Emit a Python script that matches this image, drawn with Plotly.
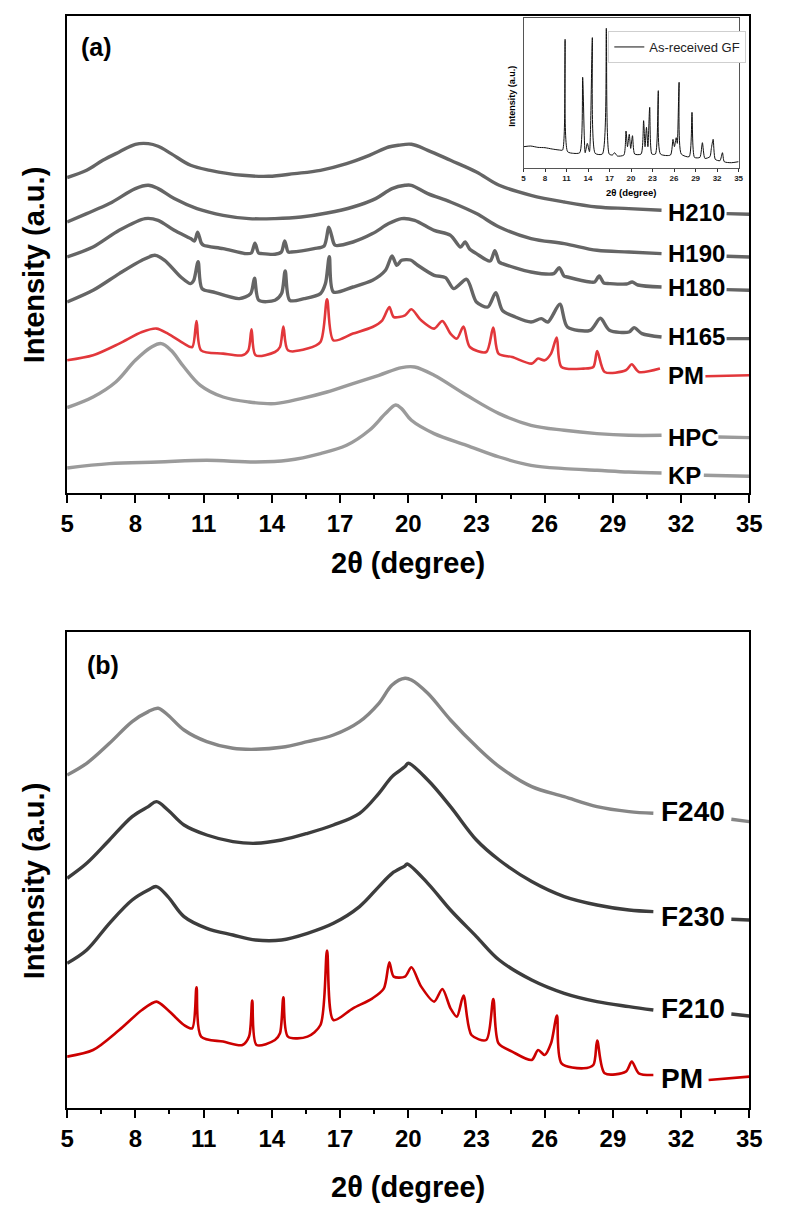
import plotly.graph_objects as go

# ---------------- Panel (a) data: 2theta (deg) and intensity (a.u., offset stack) ----------------
H210_X = [5.0, 5.86, 6.57, 7.29, 8.0, 8.57, 9.0, 9.57, 10.43, 11.29, 12.71, 13.86, 15.0, 16.14, 17.29, 18.29,
          19.14, 19.57, 20.14, 20.86, 21.86, 23.0, 24.0, 25.4, 26.86, 28.3, 29.7, 31.14, None, 34.0, 35.0]
H210_Y = [315.4, 322.7, 332.7, 341.0, 348.7, 349.4, 346.7, 339.4, 327.7, 322.7, 317.7, 316.7, 319.4, 322.7, 329.4, 337.7,
          346.0, 347.7, 348.7, 342.7, 332.7, 321.0, 307.7, 297.7, 291.0, 286.0, 284.4, 282.7, None, 279.4, 278.7]

H190_X = [5.0, 5.86, 6.86, 8.0, 8.57, 9.0, 9.71, 10.71, 11.86, 13.0, 14.14, 15.29, 16.43, 17.57, 18.57, 19.29,
          19.86, 20.14, 20.86, 21.86, 23.0, 24.0, 25.4, 26.86, 28.3, 29.7, 31.14, None, 34.0, 35.0]
H190_Y = [271.0, 279.4, 289.4, 304.4, 307.7, 304.4, 294.4, 284.4, 277.7, 274.4, 274.4, 276.0, 280.0, 286.0, 294.4, 304.4,
          307.7, 307.7, 299.4, 291.0, 279.4, 266.0, 254.4, 249.4, 242.7, 241.0, 239.4, None, 236.7, 236.0]

H180_X = [5.0, 6.14, 7.29, 8.43, 9.0, 9.71, 10.43, 10.6, 10.74, 10.9, 11.0, 11.86, 12.86, 13.1, 13.26, 13.42, 13.57,
          14.14, 14.42, 14.57, 14.72, 14.86, 15.86, 16.3, 16.51, 16.72, 16.79, 17.57, 18.43, 19.14, 19.71, 20.28,
          21.14, 21.86, 22.3, 22.5, 22.7, 23.0, 23.6, 23.81, 24.0, 24.14, 25.4, 26.4, 26.64, 26.85, 27.0, 28.0,
          28.2, 28.4, 28.6, 28.85, 29.6, 29.85, 30.1, 31.14, None, 34.0, 35.0]
H180_Y = [236.0, 246.0, 262.7, 274.4, 272.7, 262.7, 254.4, 252.0, 260.7, 250.0, 247.7, 244.4, 239.4, 240.0, 249.7, 240.0, 239.4,
          238.7, 241.0, 252.0, 241.0, 241.0, 244.4, 247.0, 265.7, 250.0, 247.7, 251.0, 259.4, 269.4, 274.4, 272.7,
          262.7, 257.7, 246.0, 251.0, 244.0, 239.4, 232.0, 242.4, 231.0, 229.4, 221.0, 219.4, 225.4, 217.0, 216.0, 211.0,
          211.0, 217.0, 210.0, 209.4, 209.0, 211.0, 208.0, 206.0, None, 203.4, 202.7]

H165_X = [5.0, 6.14, 7.29, 8.29, 8.86, 9.29, 10.0, 10.43, 10.57, 10.76, 10.93, 11.43, 12.57, 13.07, 13.24, 13.43,
          14.14, 14.43, 14.59, 14.79, 15.43, 16.14, 16.36, 16.53, 16.71, 17.57, 18.43, 19.0, 19.29, 19.5, 19.71,
          20.1, 20.4, 21.14, 21.64, 22.0, 22.57, 23.0, 23.5, 23.85, 24.14, 24.71, 25.4, 25.85, 26.14, 26.67, 27.0,
          28.0, 28.45, 28.85, 29.71, 29.93, 30.28, 31.14, None, 34.0, 35.0]
H165_Y = [191.0, 202.7, 219.4, 232.7, 237.7, 232.7, 216.0, 209.4, 212.7, 231.4, 204.4, 201.0, 194.4, 199.4, 214.7, 192.7,
          192.7, 199.4, 222.0, 192.7, 194.4, 199.4, 209.4, 236.4, 201.0, 206.0, 212.7, 222.7, 237.0, 227.7, 232.7,
          233.0, 228.0, 217.7, 215.4, 204.4, 213.7, 191.0, 186.0, 200.4, 182.7, 176.0, 171.0, 174.4, 171.0, 188.7, 166.0,
          162.7, 174.7, 162.7, 161.0, 165.4, 159.4, 156.0, None, 154.4, 154.4]

PMA_X = [5.0, 6.14, 7.29, 8.29, 8.93, 9.43, 10.14, 10.5, 10.69, 10.89, 11.86, 12.71, 12.97, 13.11, 13.29, 14.14,
         14.36, 14.51, 14.71, 15.57, 16.14, 16.43, 16.71, 17.57, 18.43, 18.86, 19.17, 19.36, 19.86, 20.14, 20.57,
         21.14, 21.5, 21.86, 22.14, 22.43, 22.71, 23.43, 23.74, 23.97, 24.57, 25.43, 25.71, 26.0, 26.28, 26.53,
         26.74, 27.71, 28.14, 28.31, 28.64, 29.57, 29.83, 30.14, 31.07, None, 33.07, 35.0]
PMA_Y = [132.7, 137.7, 149.4, 161.0, 164.4, 159.4, 149.4, 146.0, 172.0, 142.7, 139.4, 137.7, 142.7, 163.7, 137.7, 141.0,
         146.0, 166.4, 142.7, 144.4, 151.0, 193.7, 152.7, 159.4, 166.0, 172.7, 186.0, 176.0, 177.7, 183.7, 172.7,
         164.4, 172.0, 159.4, 154.4, 166.4, 146.0, 141.0, 165.4, 139.4, 136.0, 129.4, 134.4, 132.7, 139.4, 155.4,
         126.0, 124.4, 126.0, 142.0, 121.0, 122.7, 128.7, 121.0, 124.4, None, 116.7, 117.7]

HPC_X = [5.0, 6.14, 7.14, 8.0, 8.71, 9.14, 9.57, 10.14, 10.86, 11.86, 13.0, 14.14, 15.29, 16.43, 17.57, 18.71,
         19.71, 20.28, 21.14, 22.57, 24.0, 25.4, 26.86, 28.3, 29.7, 31.14, None, 33.64, 35.0]
HPC_Y = [85.4, 96.0, 111.0, 132.7, 146.0, 149.4, 142.7, 126.0, 107.7, 96.0, 91.0, 89.4, 94.4, 101.0, 109.4, 117.7,
         125.4, 126.0, 117.7, 97.7, 79.4, 67.7, 62.7, 59.4, 57.7, 57.7, None, 56.0, 55.4]

KP_X = [5.0, 6.86, 9.0, 11.14, 13.29, 14.71, 16.14, 17.29, 18.29, 19.0, 19.45, 19.71, 20.14, 21.14, 22.57, 24.0,
        25.4, 26.86, 28.3, 29.7, 31.14, None, 33.0, 35.0]
KP_Y = [25.0, 29.4, 31.0, 32.7, 31.0, 32.7, 39.4, 47.7, 62.7, 79.4, 88.0, 84.4, 72.7, 59.4, 47.7, 36.0,
        27.7, 24.4, 22.7, 21.0, 20.0, None, 17.7, 16.7]

# ---------------- Inset: as-received GF ----------------
GF_X = [5.0, 6.0, 7.0, 8.0, 9.0, 10.0, 10.45, 10.8, 11.15, 12.0, 12.85, 13.25, 13.6, 13.9, 14.2, 14.6, 15.0,
        16.0, 16.55, 16.95, 17.4, 17.7, 18.1, 19.0, 19.3, 19.5, 19.75, 19.95, 20.2, 20.5, 21.4, 21.75, 21.95,
        22.15, 22.35, 22.6, 22.9, 23.4, 23.8, 24.1, 25.5, 25.85, 26.05, 26.3, 26.45, 26.7, 27.0, 28.1, 28.5,
        28.85, 29.6, 29.95, 30.3, 31.0, 31.2, 31.45, 31.75, 32.4, 32.75, 33.0, 34.0, 35.0]
GF_Y = [63, 65, 61, 60, 56, 53, 53, 385, 48, 43, 45, 271, 45, 73, 48, 390, 43,
        41, 418, 41, 38, 45, 35, 38, 110, 63, 100, 58, 96, 41, 41, 141, 63,
        121, 63, 181, 41, 41, 231, 41, 38, 85, 63, 90, 73, 256, 41, 33, 166,
        31, 31, 75, 28, 33, 58, 85, 25, 21, 45, 18, 15, 18]

# ---------------- Panel (b) data ----------------
F240_X = [5.0, 5.86, 6.86, 7.86, 8.57, 9.0, 9.43, 10.14, 11.14, 12.29, 13.29, 14.43, 15.57, 16.71, 17.86, 18.71,
          19.29, 19.86, 20.14, 20.86, 21.86, 23.0, 24.0, 25.43, 26.86, 28.3, 29.71, 30.78, None, 34.21, 35.0]
F240_Y = [333.3, 345.0, 365.0, 386.7, 396.7, 400.0, 393.3, 378.3, 366.7, 360.0, 359.0, 361.0, 366.7, 373.3, 386.7, 405.0,
          423.3, 430.0, 428.3, 415.0, 388.3, 361.7, 341.7, 321.7, 311.7, 301.7, 296.7, 295.0, None, 289.0, 286.7]

F230_X = [5.0, 5.86, 6.86, 7.86, 8.57, 8.93, 9.43, 10.14, 11.14, 12.29, 13.29, 14.43, 15.57, 16.71, 17.86, 18.71,
          19.29, 19.86, 20.0, 20.86, 21.86, 23.0, 24.0, 25.43, 26.86, 28.3, 29.71, 30.78, None, 34.21, 35.0]
F230_Y = [230.0, 245.0, 268.3, 291.7, 301.7, 306.7, 298.3, 283.3, 273.3, 266.7, 265.0, 268.3, 275.0, 283.3, 295.0, 315.0,
          331.7, 341.7, 345.0, 328.3, 301.7, 268.3, 248.3, 226.7, 211.7, 203.3, 198.3, 196.7, None, 189.0, 188.3]

F210_X = [5.0, 5.86, 6.86, 7.86, 8.57, 8.93, 9.43, 10.14, 11.14, 12.29, 13.29, 14.43, 15.57, 16.71, 17.86, 18.71,
          19.29, 19.86, 19.95, 20.86, 21.86, 23.0, 24.0, 25.43, 26.86, 28.3, 29.71, 30.78, None, 34.21, 35.0]
F210_Y = [145.0, 158.3, 185.0, 208.3, 218.3, 221.7, 211.7, 191.7, 180.0, 173.3, 168.3, 168.3, 175.0, 185.0, 201.7, 221.7,
          235.0, 242.5, 244.3, 225.0, 198.3, 171.7, 148.3, 128.3, 115.0, 106.7, 101.7, 98.3, None, 94.3, 92.3]

PMB_X = [5.0, 6.14, 7.29, 8.29, 8.93, 9.43, 10.14, 10.5, 10.69, 10.89, 11.86, 12.71, 13.0, 13.14, 13.33, 14.14,
         14.36, 14.51, 14.71, 15.57, 16.14, 16.43, 16.71, 17.57, 18.43, 18.93, 19.17, 19.36, 19.86, 20.14, 20.57,
         21.14, 21.5, 21.86, 22.14, 22.43, 22.78, 23.43, 23.74, 23.97, 24.57, 25.43, 25.71, 26.0, 26.28, 26.54,
         26.74, 27.71, 28.14, 28.31, 28.64, 29.57, 29.83, 30.14, 30.78, None, 33.21, 35.0]
PMB_Y = [51.7, 58.3, 78.3, 98.3, 106.7, 98.3, 83.3, 80.0, 121.0, 71.7, 66.7, 63.3, 71.7, 107.7, 63.3, 68.3,
         75.0, 111.0, 71.7, 71.7, 83.3, 157.7, 88.3, 100.0, 110.0, 120.0, 146.0, 131.7, 131.7, 141.0, 121.7,
         106.7, 119.3, 100.0, 91.7, 112.7, 73.3, 68.3, 109.3, 65.0, 56.7, 48.3, 58.3, 53.3, 65.0, 92.7,
         45.0, 40.0, 43.3, 67.7, 35.0, 36.7, 46.7, 35.0, 33.3, None, 28.3, 31.7]

# curve labels: (text, y position in a.u.)
LABELS_A = [("H210", 281.0), ("H190", 239.4), ("H180", 206.0), ("H165", 156.7), ("PM", 117.7), ("HPC", 56.0), ("KP", 17.7)]
LABELS_B = [("F240", 296.6), ("F230", 191.6), ("F210", 100.0), ("PM", 30.0)]
X_TICKS = [5, 8, 11, 14, 17, 20, 23, 26, 29, 32, 35]

FONT = "Liberation Sans, Arial, sans-serif"
W, H = 786, 1212

def px(x):
    return x / W

def py(y):
    return (H - y) / H

GREY_H = "#656565"
GREY_L = "#9b9b9b"
RED_A = "#e2373b"
F240_C = "#868686"
DARK = "#3d3d3d"
RED_B = "#cc0000"

fig = go.Figure()

def add(x, y, color, width, xa, ya, name=None, legend=False, smooth=0.8):
    fig.add_trace(go.Scatter(x=x, y=y, mode="lines",
                             line=dict(color=color, width=width, shape="spline", smoothing=smooth),
                             xaxis=xa, yaxis=ya, showlegend=legend, name=name, connectgaps=False,
                             hoverinfo="skip"))

add(H210_X, H210_Y, GREY_H, 3.4, "x", "y", smooth=1.0)
add(H190_X, H190_Y, GREY_H, 3.4, "x", "y", smooth=1.0)
add(H180_X, H180_Y, GREY_H, 3.4, "x", "y")
add(H165_X, H165_Y, GREY_H, 3.4, "x", "y")
add(PMA_X, PMA_Y, RED_A, 2.6, "x", "y")
add(HPC_X, HPC_Y, GREY_L, 3.4, "x", "y", smooth=1.0)
add(KP_X, KP_Y, GREY_L, 3.4, "x", "y", smooth=1.0)
add(GF_X, GF_Y, "#111111", 1.0, "x3", "y3", name="As-received GF", legend=True, smooth=0.6)
add(F240_X, F240_Y, F240_C, 3.4, "x2", "y2", smooth=1.0)
add(F230_X, F230_Y, DARK, 3.4, "x2", "y2", smooth=1.0)
add(F210_X, F210_Y, DARK, 3.4, "x2", "y2", smooth=1.0)
add(PMB_X, PMB_Y, RED_B, 2.6, "x2", "y2")

XDOM = [px(61.7), px(761.7)]

def main_xaxis(anchor):
    return dict(domain=XDOM, range=[5, 35], anchor=anchor, tickvals=X_TICKS,
                ticks="outside", ticklen=8, tickwidth=2, tickcolor="black",
                minor=dict(tickvals=[x + 1.5 for x in X_TICKS[:-1]], ticks="outside", ticklen=4,
                           tickwidth=2, tickcolor="black"),
                showline=True, linewidth=2, linecolor="black", mirror=True,
                showgrid=False, zeroline=False,
                tickfont=dict(family=FONT, size=24, color="black", weight="bold"))

def main_yaxis(anchor, dom, top):
    return dict(domain=dom, range=[0, top], anchor=anchor, showticklabels=False, ticks="",
                showline=True, linewidth=2, linecolor="black", mirror=True,
                showgrid=False, zeroline=False)

annotations = []

def text(t, x, y, size, angle=0, bold=True, xanchor="center"):
    annotations.append(dict(text=t, x=px(x), y=py(y), xref="paper", yref="paper", showarrow=False,
                            textangle=angle, xanchor=xanchor, yanchor="middle",
                            font=dict(family=FONT, size=size, color="black",
                                      weight="bold" if bold else "normal")))

# axis titles
text("2θ (degree)", 411.7, 563, 29)
text("Intensity (a.u.)", 28, 265, 29, angle=-90)
text("2θ (degree)", 411.7, 1187, 29)
text("Intensity (a.u.)", 28, 881, 29, angle=-90)
text("(a)", 92, 47, 25)
text("(b)", 98, 665, 25)
# inset titles
text("2θ (degree)", 641, 192, 9.5)
text("Intensity (a.u.)", 518, 96, 9, angle=-90)

for t, yv in LABELS_A:
    annotations.append(dict(text=t, x=31.33, y=yv, xref="x", yref="y", showarrow=False,
                            xanchor="left", yanchor="middle",
                            font=dict(family=FONT, size=24, color="black", weight="bold")))
for t, yv in LABELS_B:
    annotations.append(dict(text=t, x=31.02, y=yv, xref="x2", yref="y2", showarrow=False,
                            xanchor="left", yanchor="middle",
                            font=dict(family=FONT, size=28, color="black", weight="bold")))

fig.update_layout(
    width=W, height=H, margin=dict(l=0, r=0, t=0, b=0),
    paper_bgcolor="white", plot_bgcolor="white",
    xaxis=main_xaxis("y"),
    yaxis=main_yaxis("x", [py(493.0), py(15.7)], 477.3),
    xaxis2=main_xaxis("y2"),
    yaxis2=main_yaxis("x2", [py(1108.3), py(632.3)], 476),
    xaxis3=dict(domain=[px(530), px(750.7)], range=[5, 35], anchor="y3", tickvals=X_TICKS,
                ticks="outside", ticklen=3, tickwidth=1, tickcolor="#333",
                showline=True, linewidth=1, linecolor="#555", mirror=True,
                showgrid=False, zeroline=False,
                tickfont=dict(family=FONT, size=8, color="#222", weight="bold")),
    yaxis3=dict(domain=[py(167.7), py(18.3)], range=[0, 448], anchor="x3", showticklabels=False, ticks="",
                showline=True, linewidth=1, linecolor="#555", mirror=True,
                showgrid=False, zeroline=False),
    legend=dict(x=px(617), y=py(31), xanchor="left", yanchor="top", bgcolor="white",
                bordercolor="#cfcfcf", borderwidth=1, itemwidth=30,
                font=dict(family=FONT, size=13, color="#222")),
    annotations=annotations,
)

fig.write_html("out.html", config={"displayModeBar": False},
               post_script="document.body.style.margin='0';document.body.style.overflow='hidden';")
